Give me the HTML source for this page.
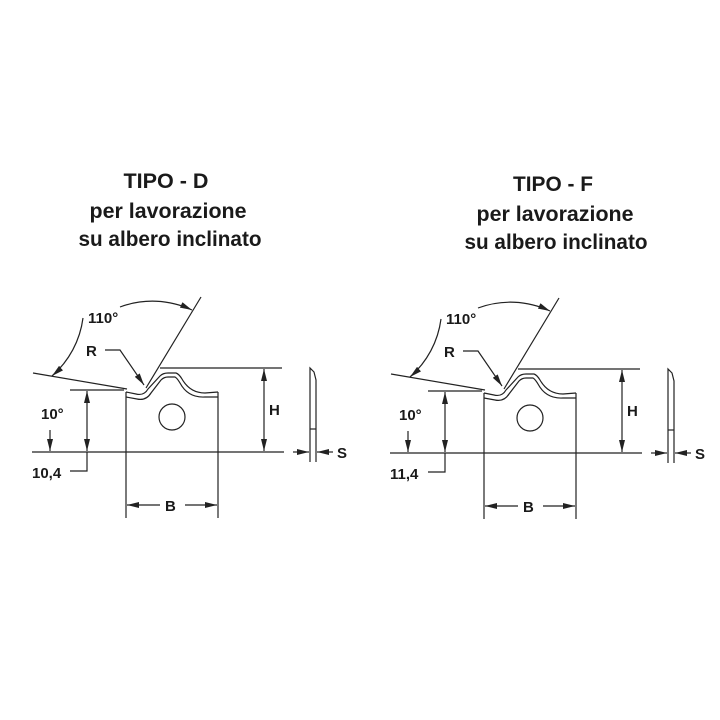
<!DOCTYPE html>
<html><head><meta charset="utf-8"><style>
html,body{margin:0;padding:0;background:#fff;}
svg{display:block;}
</style></head><body>
<svg width="720" height="720" viewBox="0 0 720 720" xmlns="http://www.w3.org/2000/svg">
<defs>
<marker id="a" viewBox="0 0 12 6" refX="12" refY="3" markerWidth="12" markerHeight="6" orient="auto-start-reverse" markerUnits="userSpaceOnUse"><path d="M0,0 L12,3 L0,6 z" fill="#222"/></marker>
</defs>
<g font-family="Liberation Sans, sans-serif" font-weight="bold" fill="#1a1a1a" text-anchor="middle">
<text x="166" y="188" font-size="21" textLength="85" lengthAdjust="spacingAndGlyphs">TIPO - D</text>
<text x="168" y="218" font-size="21" textLength="157" lengthAdjust="spacingAndGlyphs">per lavorazione</text>
<text x="170" y="246" font-size="21" textLength="183" lengthAdjust="spacingAndGlyphs">su albero inclinato</text>
<text x="553" y="191" font-size="21" textLength="80" lengthAdjust="spacingAndGlyphs">TIPO - F</text>
<text x="555" y="221" font-size="21" textLength="157" lengthAdjust="spacingAndGlyphs">per lavorazione</text>
<text x="556" y="249" font-size="21" textLength="183" lengthAdjust="spacingAndGlyphs">su albero inclinato</text>
</g>

<g id="d">
<g stroke="#222" stroke-width="1.2" fill="none">
<line x1="32" y1="452" x2="284" y2="452"/>
<line x1="126" y1="392" x2="126" y2="518"/>
<line x1="218" y1="392" x2="218" y2="518"/>
<path d="M126,392 L136,394 Q144,396 148,389 L160,376 Q163,373 168,373 L176,373 Q179,374 182,379 Q190,393 205,393 L218,392"/>
<path d="M126,397 L137,399 Q146,401 151,393 L161,380 Q164,377 168,377 L175,377 Q177,378 180,383 Q188,398 205,397 L218,397"/>
<line x1="33" y1="373" x2="127" y2="389"/>
<line x1="146" y1="388" x2="201" y2="297"/>
<line x1="160" y1="368" x2="282" y2="368"/>
<circle cx="172" cy="417" r="13"/>
<line x1="264" y1="369" x2="264" y2="451" marker-start="url(#a)" marker-end="url(#a)"/>
<line x1="127" y1="505" x2="160" y2="505" marker-start="url(#a)"/>
<line x1="185" y1="505" x2="217" y2="505" marker-end="url(#a)"/>
<line x1="70" y1="390" x2="124" y2="390"/>
<line x1="87" y1="391" x2="87" y2="451" marker-start="url(#a)" marker-end="url(#a)"/>
<polyline points="70,471 87,471 87,452"/>
<path d="M83,318 A93 93 0 0 1 52 376" marker-end="url(#a)"/>
<path d="M120,307 A93 93 0 0 1 192 310" marker-end="url(#a)"/>
<line x1="50" y1="430" x2="50" y2="451" marker-end="url(#a)"/>
<polyline points="105,350 120,350 144,385" marker-end="url(#a)"/>
<path d="M310,462 L310,368 L314,372 L316,380 L316,462"/>
<line x1="310" y1="429" x2="316" y2="429"/>
<line x1="293" y1="452" x2="309" y2="452" marker-end="url(#a)"/>
<line x1="333" y1="452" x2="317" y2="452" marker-end="url(#a)"/>
</g>
<g font-family="Liberation Sans, sans-serif" font-weight="bold" fill="#1a1a1a" font-size="15">
<text x="88" y="323">110°</text>
<text x="86" y="356">R</text>
<text x="41" y="419">10°</text>
<text x="32" y="478">10,4</text>
<text x="269" y="415">H</text>
<text x="165" y="511">B</text>
<text x="337" y="458">S</text>
</g>
</g>

<g transform="translate(358,1)">
<g stroke="#222" stroke-width="1.2" fill="none">
<line x1="32" y1="452" x2="284" y2="452"/>
<line x1="126" y1="392" x2="126" y2="518"/>
<line x1="218" y1="392" x2="218" y2="518"/>
<path d="M126,392 L136,394 Q144,396 148,389 L160,376 Q163,373 168,373 L176,373 Q179,374 182,379 Q190,393 205,393 L218,392"/>
<path d="M126,397 L137,399 Q146,401 151,393 L161,380 Q164,377 168,377 L175,377 Q177,378 180,383 Q188,398 205,397 L218,397"/>
<line x1="33" y1="373" x2="127" y2="389"/>
<line x1="146" y1="388" x2="201" y2="297"/>
<line x1="160" y1="368" x2="282" y2="368"/>
<circle cx="172" cy="417" r="13"/>
<line x1="264" y1="369" x2="264" y2="451" marker-start="url(#a)" marker-end="url(#a)"/>
<line x1="127" y1="505" x2="160" y2="505" marker-start="url(#a)"/>
<line x1="185" y1="505" x2="217" y2="505" marker-end="url(#a)"/>
<line x1="70" y1="390" x2="124" y2="390"/>
<line x1="87" y1="391" x2="87" y2="451" marker-start="url(#a)" marker-end="url(#a)"/>
<polyline points="70,471 87,471 87,452"/>
<path d="M83,318 A93 93 0 0 1 52 376" marker-end="url(#a)"/>
<path d="M120,307 A93 93 0 0 1 192 310" marker-end="url(#a)"/>
<line x1="50" y1="430" x2="50" y2="451" marker-end="url(#a)"/>
<polyline points="105,350 120,350 144,385" marker-end="url(#a)"/>
<path d="M310,462 L310,368 L314,372 L316,380 L316,462"/>
<line x1="310" y1="429" x2="316" y2="429"/>
<line x1="293" y1="452" x2="309" y2="452" marker-end="url(#a)"/>
<line x1="333" y1="452" x2="317" y2="452" marker-end="url(#a)"/>
</g>
<g font-family="Liberation Sans, sans-serif" font-weight="bold" fill="#1a1a1a" font-size="15">
<text x="88" y="323">110°</text>
<text x="86" y="356">R</text>
<text x="41" y="419">10°</text>
<text x="32" y="478">11,4</text>
<text x="269" y="415">H</text>
<text x="165" y="511">B</text>
<text x="337" y="458">S</text>
</g>
</g>
</svg>
</body></html>
